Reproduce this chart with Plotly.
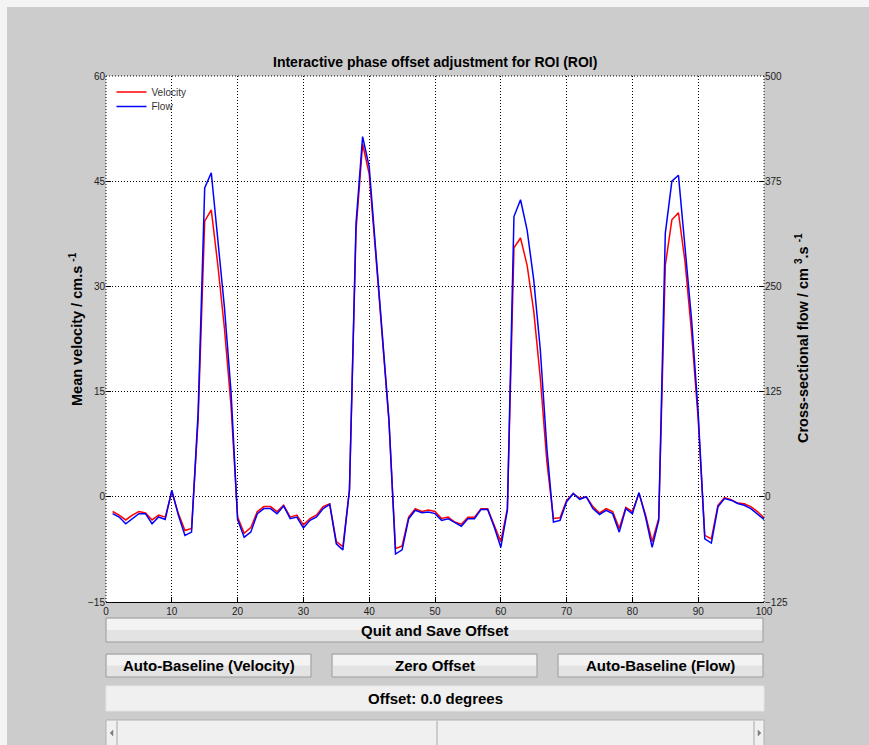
import plotly.graph_objects as go

# Frame index (1..100) and the two measured curves
frames = list(range(1, 101))

velocity = [
    -2.1, -2.6, -3.3, -2.6, -2.1, -2.3, -3.3, -2.6, -2.9, 0.7,
    -2.4, -4.8, -4.5, 11.0, 39.3, 40.9, 33.0, 24.0, 13.0, -2.9,
    -5.2, -4.4, -2.1, -1.4, -1.4, -2.1, -1.2, -2.9, -2.6, -4.0,
    -3.1, -2.6, -1.4, -1.0, -6.4, -7.1, 1.0, 38.0, 50.3, 46.0,
    34.5, 22.5, 10.8, -7.4, -7.0, -2.9, -1.7, -2.1, -1.9, -2.1,
    -3.1, -2.9, -3.6, -3.9, -2.9, -2.9, -1.7, -1.7, -4.0, -6.4,
    -1.7, 35.5, 36.9, 33.0, 26.5, 17.0, 5.0, -3.1, -3.0, -0.5,
    0.4, -0.2, 0.0, -1.4, -2.3, -1.7, -2.1, -4.5, -1.5, -2.1,
    0.5, -2.6, -6.4, -3.1, 33.0, 39.5, 40.5, 33.5, 23.3, 11.0,
    -5.5, -6.0, -1.2, -0.1, -0.4, -0.9, -1.0, -1.4, -2.1, -3.0,
]

flow = [
    -20, -24, -32, -26, -20, -20, -32, -24, -27, 8,
    -22, -46, -42, 100, 367, 385, 304, 225, 125, -27,
    -48, -42, -20, -14, -14, -20, -11, -26, -24, -37,
    -28, -24, -14, -9, -56, -63, 8, 325, 428, 392,
    292, 192, 92, -68, -63, -26, -16, -19, -18, -20,
    -28, -26, -31, -35, -26, -26, -15, -15, -36, -60,
    -16, 333, 353, 317, 258, 175, 58, -30, -28, -6,
    4, -3, 0, -14, -21, -16, -20, -42, -14, -20,
    5, -24, -60, -28, 313, 375, 382, 300, 210, 99,
    -50, -55, -12, -2, -4, -8, -10, -14, -20, -27,
]

x_ticks = [0, 10, 20, 30, 40, 50, 60, 70, 80, 90, 100]
vel_ticks = [-15, 0, 15, 30, 45, 60]
flow_ticks = [-125, 0, 125, 250, 375, 500]

# Figure geometry (pixels)
W, H = 869, 745
L, R, T, B = 106, 764, 76, 602


def fx(x):
    return (x - L) / (R - L)


def fy(y):
    return (B - y) / (B - T)


GREY_BG = "#cccccc"
FONT = "Liberation Sans, Arial, sans-serif"

fig = go.Figure()
fig.add_trace(go.Scatter(
    x=frames, y=velocity, name="Velocity", mode="lines",
    line=dict(color="#ff0000", width=1.5), yaxis="y", legend="legend",
))
fig.add_trace(go.Scatter(
    x=frames, y=flow, name="Flow", mode="lines",
    line=dict(color="#0000ff", width=1.5), yaxis="y2", legend="legend2",
))

grid_kw = dict(showgrid=True, gridcolor="#000000", gridwidth=1, griddash="1px,2px")
tick_font = dict(family=FONT, size=10, color="#222222")
legend_kw = dict(
    xanchor="left", yanchor="top", bgcolor="rgba(0,0,0,0)", borderwidth=0,
    font=dict(family=FONT, size=10, color="#333333"), itemwidth=30,
)

fig.update_layout(
    width=W, height=H,
    margin=dict(l=L, r=W - R, t=T, b=H - B),
    paper_bgcolor=GREY_BG,
    plot_bgcolor="#ffffff",
    showlegend=True,
    legend=dict(x=fx(111.5), y=fy(77.6), **legend_kw),
    legend2=dict(x=fx(111.5), y=fy(92.0), **legend_kw),
    xaxis=dict(
        range=[0, 100], tickvals=x_ticks, ticks="inside", ticklen=5,
        tickcolor="#000000", showline=True, linecolor="#000000", linewidth=1,
        zeroline=False, tickfont=tick_font, fixedrange=True, **grid_kw,
    ),
    yaxis=dict(
        range=[-15, 60], tickvals=vel_ticks, ticks="inside", ticklen=5,
        tickcolor="#000000", showline=False, zeroline=False,
        tickfont=tick_font, fixedrange=True, **grid_kw,
    ),
    yaxis2=dict(
        range=[-125, 500], tickvals=flow_ticks, ticks="inside", ticklen=5,
        tickcolor="#000000", showline=False, zeroline=False, showgrid=False,
        overlaying="y", side="right", tickfont=tick_font, fixedrange=True,
    ),
)

shapes = []
# dotted frame on the left, top and right edges of the axes box
for (x0, y0, x1, y1) in [(0, 0, 0, 1), (0, 1, 1, 1), (1, 0, 1, 1)]:
    shapes.append(dict(type="line", xref="paper", yref="paper",
                       x0=x0, y0=y0, x1=x1, y1=y1,
                       line=dict(color="#000000", width=1, dash="1px,2px")))

# light strip along the top and left window edge
shapes.append(dict(type="rect", xref="paper", yref="paper",
                   x0=fx(0), x1=fx(W), y0=fy(0), y1=fy(7),
                   fillcolor="#f4f4f4", line=dict(width=0), layer="below"))
shapes.append(dict(type="rect", xref="paper", yref="paper",
                   x0=fx(0), x1=fx(7), y0=fy(0), y1=fy(H),
                   fillcolor="#f4f4f4", line=dict(width=0), layer="below"))


def button(x0, y0, x1, y1):
    shapes.append(dict(type="rect", xref="paper", yref="paper",
                       x0=fx(x0), x1=fx(x1), y0=fy(y0), y1=fy(y1),
                       fillcolor="#e3e3e3", line=dict(color="#9c9c9c", width=1)))
    ym = (y0 + y1) / 2
    shapes.append(dict(type="rect", xref="paper", yref="paper",
                       x0=fx(x0 + 1), x1=fx(x1 - 1), y0=fy(y0 + 1), y1=fy(ym),
                       fillcolor="#f3f3f3", line=dict(width=0)))


buttons = [
    ((106, 618, 763, 642), "Quit and Save Offset"),
    ((106, 654, 311, 677), "Auto-Baseline (Velocity)"),
    ((332, 654, 537, 677), "Zero Offset"),
    ((558, 654, 763, 677), "Auto-Baseline (Flow)"),
]
for (bx0, by0, bx1, by1), _ in buttons:
    button(bx0, by0, bx1, by1)

# offset readout panel
shapes.append(dict(type="rect", xref="paper", yref="paper",
                   x0=fx(106), x1=fx(764), y0=fy(686), y1=fy(711),
                   fillcolor="#f0f0f0", line=dict(color="#e4e4e4", width=1)))

# slider
shapes.append(dict(type="rect", xref="paper", yref="paper",
                   x0=fx(106), x1=fx(764), y0=fy(720), y1=fy(750),
                   fillcolor="#f0f0f0", line=dict(color="#b0b0b0", width=1)))
for sx in (117, 754, 437):
    shapes.append(dict(type="line", xref="paper", yref="paper",
                       x0=fx(sx), x1=fx(sx), y0=fy(721), y1=fy(750),
                       line=dict(color="#a8a8a8", width=1)))
shapes.append(dict(type="path", xref="paper", yref="paper",
                   path=f"M{fx(113)},{fy(730)} L{fx(110)},{fy(733)} L{fx(113)},{fy(736)} Z",
                   fillcolor="#808080", line=dict(color="#808080", width=0.5)))
shapes.append(dict(type="path", xref="paper", yref="paper",
                   path=f"M{fx(758)},{fy(730)} L{fx(761)},{fy(733)} L{fx(758)},{fy(736)} Z",
                   fillcolor="#808080", line=dict(color="#808080", width=0.5)))

annotations = [
    dict(text="<b>Interactive phase offset adjustment for ROI (ROI)</b>",
         xref="paper", yref="paper", x=0.5, y=fy(62), showarrow=False,
         xanchor="center", yanchor="middle",
         font=dict(family=FONT, size=14, color="#000000")),
    dict(text="<b>Mean velocity / cm.s <sup>-1</sup></b>",
         xref="paper", yref="paper", x=fx(76), y=fy(329), showarrow=False,
         textangle=-90, xanchor="center", yanchor="middle",
         font=dict(family=FONT, size=14.5, color="#000000")),
    dict(text="<b>Cross-sectional flow / cm <sup>3</sup>.s <sup>-1</sup></b>",
         xref="paper", yref="paper", x=fx(802), y=fy(338), showarrow=False,
         textangle=-90, xanchor="center", yanchor="middle",
         font=dict(family=FONT, size=14.5, color="#000000")),
    dict(text="<b>Offset: 0.0 degrees</b>",
         xref="paper", yref="paper", x=fx(435), y=fy(698), showarrow=False,
         xanchor="center", yanchor="middle",
         font=dict(family=FONT, size=15, color="#000000")),
]
for (bx0, by0, bx1, by1), label in buttons:
    annotations.append(dict(
        text=f"<b>{label}</b>", xref="paper", yref="paper",
        x=fx((bx0 + bx1) / 2), y=fy((by0 + by1) / 2), showarrow=False,
        xanchor="center", yanchor="middle",
        font=dict(family=FONT, size=15, color="#000000")))

fig.update_layout(shapes=shapes, annotations=annotations)

fig.write_html("out.html", config={"displayModeBar": False, "staticPlot": True})
